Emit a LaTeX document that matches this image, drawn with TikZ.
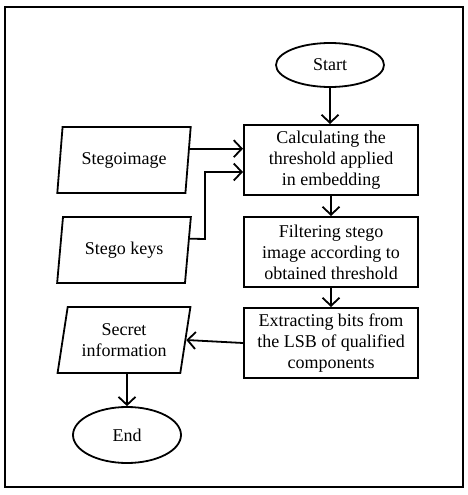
\documentclass[tikz,border=0pt]{standalone}
\usepackage{fontspec}
\setmainfont{Liberation Serif}
\usetikzlibrary{shapes.geometric,arrows.meta,calc}
\begin{document}
\begin{tikzpicture}[x=1pt,y=-1pt,
  every node/.style={font=\fontsize{18}{21}\selectfont, align=center, inner sep=0pt},
  proc/.style={draw, line width=2pt, minimum width=174pt, minimum height=70pt},
  io/.style={draw, line width=1.8pt, trapezium, trapezium stretches=true,
    trapezium left angle=77, trapezium right angle=103, minimum width=134pt, minimum height=66pt},
  term/.style={draw, line width=1.8pt, ellipse, inner sep=0pt},
  arr/.style={line width=1.8pt, -{Straight Barb[length=8pt,width=17pt,line width=1.8pt]}}
]
\useasboundingbox (0,0) rectangle (467,495);
\fill[white] (0,0) rectangle (467,495);
\draw[line width=2.4pt] (5,7) rectangle (463,487);

\node[term, minimum width=108pt, minimum height=44pt] (start) at (330,65) {Start};
\node[proc] (b1) at (331,160) {Calculating the\\threshold applied\\in embedding};
\node[proc] (b2) at (331,252) {Filtering stego\\image according to\\obtained threshold};
\node[proc] (b3) at (331,343) {Extracting bits from\\the LSB of qualified\\components};
\node[io] (img) at (124,160) {Stegoimage};
\node[io] (keys) at (124,250) {Stego keys};
\node[io] (sec) at (124,340) {Secret\\information};
\node[term, minimum width=108pt, minimum height=56pt] (end) at (127,435) {End};

\coordinate (k1) at ($(keys.top right corner)!1/3!(keys.bottom right corner)$);
\coordinate (i1) at ($(img.top right corner)!1/3!(img.bottom right corner)$);

\draw[arr] (start) -- (start|-b1.north);
\draw[arr] (b1) -- (b2);
\draw[arr] (b2) -- (b3);
\draw[arr] (i1) -- (i1-|b1.west);
\draw[arr] (k1) -- (205,239) -- (205,172) -- (b1.west|-0,172);
\draw[arr] (b3.west) -- (sec.east);
\draw[arr] (sec.south-|end) -- (end.north);
\end{tikzpicture}
\end{document}
